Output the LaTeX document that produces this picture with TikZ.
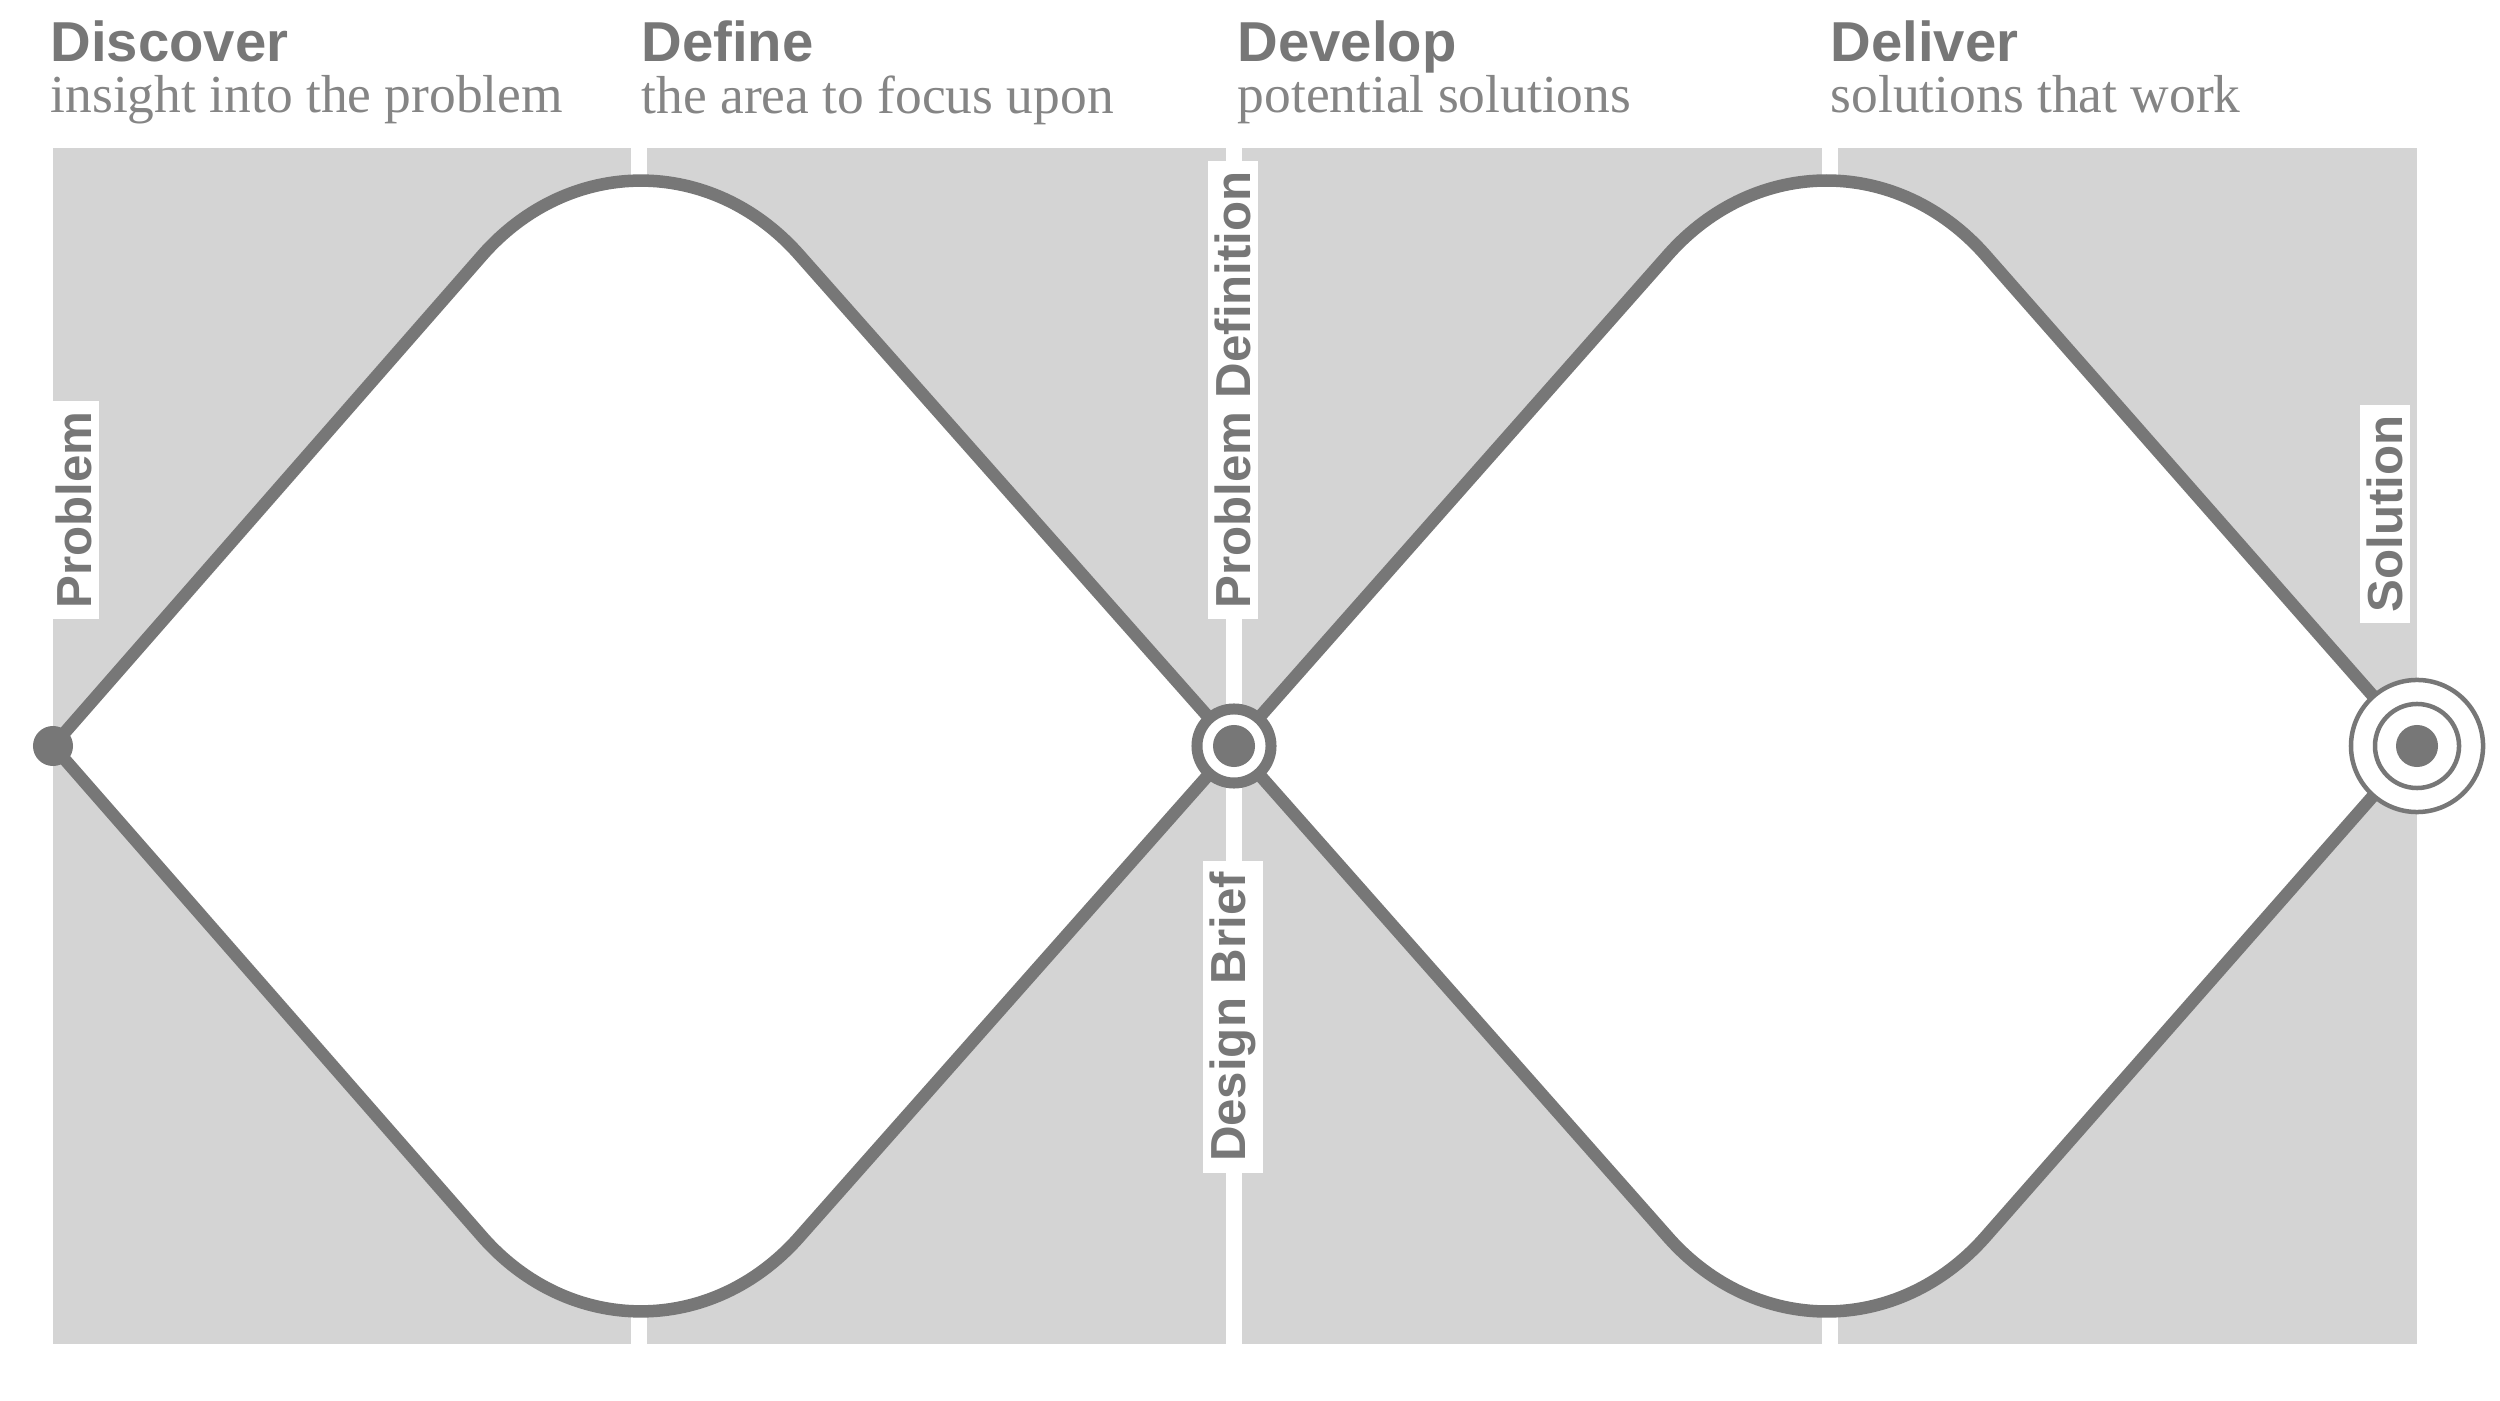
\documentclass[tikz,border=0pt]{standalone}
\usepackage{fontspec}
\setmainfont{Liberation Serif}
\setsansfont{Liberation Sans}
\definecolor{panel}{HTML}{D4D4D4}
\definecolor{ink}{HTML}{777777}
\definecolor{txt}{HTML}{858585}
\begin{document}
\begin{tikzpicture}[x=0.01cm,y=-0.01cm,
  hdr/.style={anchor=north west,inner sep=0,font=\sffamily\bfseries\fontsize{16}{18}\selectfont,text=ink},
  sub/.style={anchor=north west,inner sep=0,font=\fontsize{15.2}{18}\selectfont,text=txt},
  vlab/.style={rotate=90,fill=white,inner xsep=3pt,inner ysep=2pt,font=\sffamily\bfseries\fontsize{14}{16}\selectfont,text=ink},
  dia/.style={draw=ink,line width=0.125cm,fill=white}]
\useasboundingbox (0,0) rectangle (2500,1401);
\fill[white] (0,0) rectangle (2500,1401);
% panels
\fill[panel] (53,148) rectangle (631,1344);
\fill[panel] (647,148) rectangle (1226,1344);
\fill[panel] (1242,148) rectangle (1822,1344);
\fill[panel] (1838,148) rectangle (2417,1344);
% headers
\node[hdr] (h1) at (50,20) {Discover};
\node[sub] (s1) at (50,75) {insight into the problem};
\node[hdr] (h2) at (641,20) {Define};
\node[sub] (s2) at (641,75) {the area to focus upon};
\node[hdr] (h3) at (1237,20) {Develop};
\node[sub] (s3) at (1237,75) {potential solutions};
\node[hdr] (h4) at (1830,20) {Deliver};
\node[sub] (s4) at (1830,75) {solutions that work};
% diamonds
\coordinate (p) at (53,746);
\coordinate (d) at (1234,746);
\coordinate (s) at (2417,746);
\draw[dia] (p) [rounded corners=2.4cm] -- (640,75) [sharp corners] -- (d) [rounded corners=2.4cm] -- (640,1417) [sharp corners] -- cycle;
\draw[dia] (d) [rounded corners=2.4cm] -- (1827,75) [sharp corners] -- (s) [rounded corners=2.4cm] -- (1827,1417) [sharp corners] -- cycle;
% labels
\node[vlab] (lp) at (74,510) {Problem};
\node[vlab] (lpd) at (1233,390) {Problem Definition};
\node[vlab] (ldb) at (1233,1017) {Design Brief};
\node[vlab] (ls) at (2385,514) {Solution};
% markers
\fill[ink] (p) circle (0.2cm);
\draw[ink,line width=0.11cm,fill=white] (d) circle (0.37cm);
\fill[ink] (d) circle (0.21cm);
\draw[ink,line width=0.045cm,fill=white] (s) circle (0.66cm);
\draw[ink,line width=0.045cm] (s) circle (0.42cm);
\fill[ink] (s) circle (0.21cm);
\end{tikzpicture}
\end{document}
